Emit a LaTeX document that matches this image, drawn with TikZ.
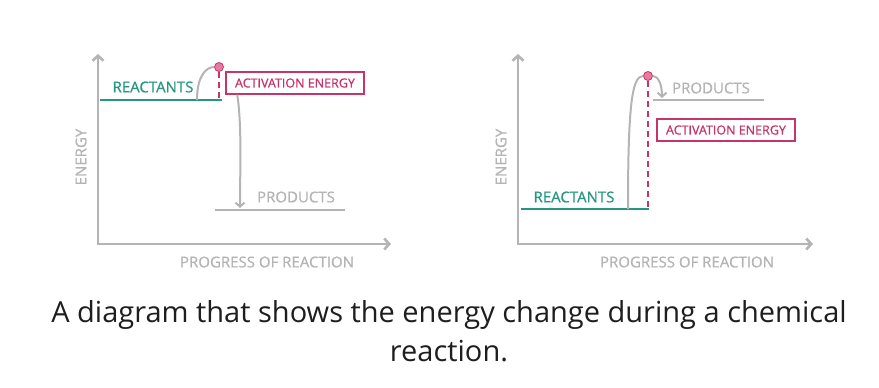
\documentclass[tikz,border=0pt]{standalone}
\usepackage{fontspec}
\setmainfont{Open Sans}
\newfontfamily\handfont[FakeBold=0.7]{Open Sans}
\usetikzlibrary{arrows.meta,positioning,calc}
\definecolor{reactteal}{RGB}{38,150,128}
\definecolor{actpink}{RGB}{198,52,104}
\definecolor{peakpink}{RGB}{232,122,162}
\definecolor{axisgray}{RGB}{180,180,180}
\definecolor{captext}{RGB}{30,30,30}

\begin{document}
\begin{tikzpicture}[x=1pt,y=-1pt,
  axis/.style={draw=axisgray,line width=2.6pt,line cap=round,-{Straight Barb[length=5pt,width=11pt]}},
  level/.style={line width=2.6pt},
  hump/.style={draw=axisgray,line width=2pt},
  actdash/.style={draw=actpink,line width=2pt,dash pattern=on 6pt off 4pt},
  lbl/.style={font=\handfont\fontsize{15}{17}\selectfont},
  actbox/.style={draw=actpink,line width=1.5pt,fill=white,text=actpink,
    minimum width=138pt,minimum height=22pt,inner sep=0pt,font=\handfont\fontsize{12.5}{14}\selectfont},
  peak/.style={circle,draw=actpink,fill=peakpink,line width=0.8pt,minimum size=9pt,inner sep=0pt}]
  \useasboundingbox (0,0) rectangle (879,388);

  % Exothermic
  \coordinate (OL) at (98,244);
  \coordinate (YL) at (98,54);
  \coordinate (XL) at (391,244);
  \draw[axis] (OL) -- (YL);
  \draw[axis] (OL) -- (XL);
  \node[lbl,text=axisgray,rotate=90] (energyL) at (81,157) {ENERGY};
  \node[lbl,text=axisgray] (progL) at (267,262) {PROGRESS OF REACTION};
  % reactants and products
  \coordinate (rsL) at (100,100);
  \coordinate (reL) at (222,100);
  \draw[level,reactteal] (rsL) -- (reL);
  \node[lbl,text=reactteal] (reactL) at (153,87) {REACTANTS};
  \coordinate (psL) at (215,210);
  \coordinate (peL) at (345,210);
  \draw[level,axisgray] (psL) -- (peL);
  \node[lbl,text=axisgray] (prodL) at (296,197) {PRODUCTS};
  % hump and activation energy
  \coordinate (footL) at (197,100);
  \node[peak] (topL) at (219,67) {};
  \draw[hump] (footL) .. controls (197,76) and (206,67) .. (topL.west);
  \draw[actdash] (topL.south) -- (topL |- reL);
  \node[actbox] (actL) at (295,83) {ACTIVATION ENERGY};
  \coordinate (dropL) at (240,208);
  \draw[hump,-{Straight Barb[length=4pt,width=9pt]}] ($(actL.south west)+(12,0)$)
    .. controls (242,125) and (240,170) .. (dropL);

  % Endothermic
  \coordinate (OR) at (518,244);
  \coordinate (YR) at (518,54);
  \coordinate (XR) at (813,244);
  \draw[axis] (OR) -- (YR);
  \draw[axis] (OR) -- (XR);
  \node[lbl,text=axisgray,rotate=90] (energyR) at (501,157) {ENERGY};
  \node[lbl,text=axisgray] (progR) at (687,262) {PROGRESS OF REACTION};
  % reactants and products
  \coordinate (rsR) at (521,209);
  \coordinate (reR) at (649,209);
  \draw[level,reactteal] (rsR) -- (reR);
  \node[lbl,text=reactteal] (reactR) at (574,197) {REACTANTS};
  \coordinate (psR) at (653,100);
  \coordinate (peR) at (764,100);
  \draw[level,axisgray] (psR) -- (peR);
  \node[lbl,text=axisgray] (prodR) at (711,88) {PRODUCTS};
  % hump and activation energy
  \coordinate (footR) at (628,209);
  \node[peak] (topR) at (648,76) {};
  \coordinate (dropR) at (662,98);
  \draw[hump] (footR) .. controls (628,105) and (632,76) .. (topR.west);
  \draw[hump,-{Straight Barb[length=4pt,width=9pt]}] (topR.east)
    .. controls (658,76) and (662,84) .. (dropR);
  \draw[actdash] (topR.south) -- (topR |- reR);
  \node[actbox] (actR) at (726,130) {ACTIVATION ENERGY};

  % caption
  \node[text=captext,font=\fontsize{29}{39}\selectfont,align=center] (cap) at (449,331)
    {A diagram that shows the energy change during a chemical\\reaction.};
\end{tikzpicture}
\end{document}
